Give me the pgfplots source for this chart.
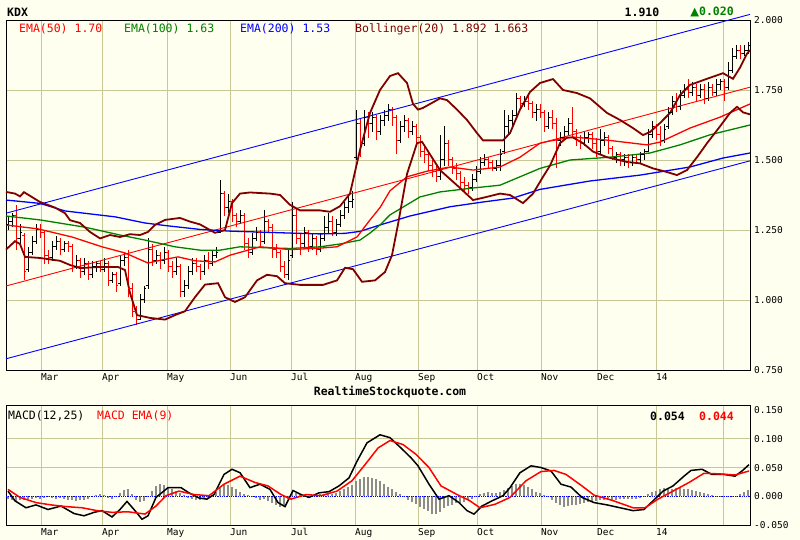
\documentclass[border=0pt]{standalone}
\usepackage{pgfplots}
\pgfplotsset{compat=1.18}
\usepackage{pgfplotstable}
\usepackage{fontspec}
\setmainfont{DejaVu Sans Mono}
\newfontfamily\symfont{DejaVu Sans}
\definecolor{bg}{RGB}{255,255,240}
\definecolor{gridc}{RGB}{200,200,150}
\definecolor{boll}{RGB}{128,0,0}
\definecolor{emagreen}{RGB}{0,128,0}
\definecolor{histc}{RGB}{140,140,140}

\pgfdeclareplotmark{ohlcopen}{\pgfpathmoveto{\pgfqpoint{-2.2pt}{0pt}}\pgfpathlineto{\pgfqpoint{0pt}{0pt}}\pgfusepathqstroke}
\pgfdeclareplotmark{ohlcclose}{\pgfpathmoveto{\pgfqpoint{0pt}{0pt}}\pgfpathlineto{\pgfqpoint{2.2pt}{0pt}}\pgfusepathqstroke}

% up bars: x open high low close
\pgfplotstableread{
x o h l c
8 1.27 1.30 1.25 1.28
12 1.28 1.31 1.26 1.30
20 1.22 1.27 1.20 1.24
28 1.11 1.19 1.10 1.17
32 1.17 1.23 1.16 1.21
36 1.21 1.27 1.20 1.25
52 1.15 1.21 1.14 1.19
56 1.19 1.23 1.18 1.21
64 1.18 1.21 1.17 1.20
76 1.12 1.16 1.11 1.14
84 1.10 1.15 1.09 1.13
92 1.09 1.14 1.08 1.12
96 1.12 1.14 1.10 1.13
104 1.11 1.15 1.10 1.13
112 1.07 1.10 1.06 1.09
120 1.06 1.16 1.05 1.14
124 1.14 1.17 1.12 1.15
140 0.93 1.02 0.93 1.00
144 1.00 1.05 0.99 1.04
148 1.05 1.22 1.04 1.18
156 1.14 1.18 1.13 1.16
164 1.14 1.19 1.13 1.17
176 1.10 1.15 1.09 1.12
184 1.03 1.07 1.01 1.05
188 1.05 1.12 1.04 1.10
192 1.10 1.15 1.09 1.13
204 1.10 1.16 1.09 1.14
212 1.13 1.18 1.12 1.16
216 1.16 1.19 1.15 1.17
220 1.24 1.43 1.24 1.38
228 1.33 1.38 1.31 1.35
240 1.28 1.32 1.27 1.30
252 1.17 1.24 1.16 1.22
256 1.22 1.26 1.21 1.24
264 1.21 1.32 1.20 1.28
288 1.09 1.18 1.07 1.14
292 1.16 1.35 1.15 1.30
304 1.20 1.26 1.19 1.24
312 1.19 1.24 1.18 1.22
320 1.18 1.24 1.17 1.22
324 1.22 1.30 1.21 1.26
328 1.26 1.31 1.24 1.28
336 1.24 1.29 1.23 1.27
340 1.27 1.32 1.26 1.30
344 1.30 1.35 1.29 1.33
348 1.33 1.37 1.31 1.35
352 1.35 1.39 1.33 1.36
356 1.51 1.68 1.50 1.63
364 1.56 1.68 1.55 1.65
372 1.63 1.67 1.60 1.65
380 1.60 1.66 1.59 1.64
384 1.64 1.68 1.62 1.66
388 1.66 1.70 1.64 1.68
400 1.57 1.64 1.56 1.62
404 1.62 1.66 1.60 1.64
412 1.60 1.64 1.59 1.62
440 1.44 1.59 1.43 1.50
444 1.50 1.62 1.48 1.56
472 1.40 1.45 1.39 1.43
476 1.43 1.48 1.42 1.46
480 1.46 1.51 1.45 1.49
484 1.49 1.52 1.48 1.50
496 1.47 1.50 1.46 1.48
500 1.48 1.54 1.46 1.52
504 1.53 1.68 1.52 1.62
508 1.62 1.66 1.59 1.64
512 1.64 1.68 1.62 1.66
516 1.66 1.74 1.65 1.72
524 1.70 1.73 1.69 1.71
536 1.67 1.70 1.64 1.68
548 1.62 1.67 1.61 1.65
560 1.57 1.60 1.55 1.58
564 1.58 1.62 1.57 1.60
568 1.60 1.65 1.59 1.63
584 1.56 1.60 1.55 1.58
588 1.58 1.60 1.56 1.59
600 1.53 1.61 1.52 1.57
604 1.57 1.60 1.55 1.58
616 1.51 1.53 1.49 1.52
624 1.50 1.52 1.48 1.51
632 1.49 1.52 1.48 1.51
640 1.50 1.53 1.49 1.52
644 1.52 1.54 1.50 1.53
648 1.53 1.61 1.53 1.59
652 1.59 1.64 1.58 1.62
664 1.57 1.63 1.56 1.61
668 1.62 1.69 1.61 1.67
672 1.67 1.73 1.66 1.71
680 1.69 1.75 1.68 1.73
684 1.73 1.77 1.72 1.75
692 1.74 1.78 1.73 1.76
700 1.73 1.77 1.72 1.75
708 1.72 1.78 1.71 1.76
716 1.74 1.79 1.73 1.77
720 1.77 1.79 1.75 1.78
728 1.76 1.85 1.75 1.82
732 1.82 1.90 1.81 1.87
736 1.87 1.91 1.86 1.89
744 1.88 1.91 1.87 1.89
748 1.89 1.92 1.88 1.91
}\upbars

% down bars: x open high low close
\pgfplotstableread{
x o h l c
16 1.30 1.34 1.18 1.22
24 1.23 1.24 1.07 1.10
40 1.25 1.27 1.22 1.24
44 1.24 1.25 1.13 1.16
48 1.16 1.18 1.13 1.15
60 1.21 1.22 1.16 1.18
68 1.20 1.21 1.17 1.19
72 1.19 1.20 1.10 1.12
80 1.14 1.15 1.08 1.10
88 1.13 1.14 1.07 1.09
100 1.13 1.14 1.10 1.11
108 1.13 1.14 1.05 1.07
116 1.09 1.10 1.03 1.05
128 1.15 1.18 1.01 1.04
132 1.04 1.06 0.94 0.96
136 0.96 0.98 0.91 0.93
152 1.18 1.20 1.12 1.14
160 1.16 1.17 1.11 1.14
168 1.17 1.18 1.10 1.12
172 1.12 1.14 1.08 1.10
180 1.12 1.13 1.01 1.03
196 1.13 1.15 1.10 1.12
200 1.12 1.13 1.07 1.10
208 1.14 1.17 1.11 1.13
224 1.38 1.39 1.30 1.33
232 1.35 1.36 1.28 1.30
236 1.30 1.31 1.26 1.28
244 1.30 1.31 1.18 1.20
248 1.20 1.22 1.15 1.17
260 1.24 1.25 1.19 1.21
268 1.28 1.29 1.24 1.26
272 1.26 1.27 1.15 1.18
276 1.18 1.20 1.15 1.17
280 1.17 1.18 1.10 1.12
284 1.12 1.14 1.08 1.09
296 1.30 1.33 1.20 1.22
300 1.22 1.24 1.16 1.20
308 1.24 1.25 1.17 1.19
316 1.22 1.23 1.16 1.18
332 1.28 1.30 1.23 1.24
360 1.63 1.65 1.51 1.56
368 1.65 1.67 1.58 1.63
376 1.65 1.66 1.57 1.60
392 1.68 1.69 1.62 1.65
396 1.65 1.66 1.52 1.57
408 1.64 1.65 1.58 1.60
416 1.62 1.63 1.56 1.58
420 1.58 1.59 1.51 1.53
424 1.53 1.55 1.49 1.52
428 1.52 1.53 1.46 1.48
432 1.48 1.50 1.44 1.46
436 1.46 1.48 1.42 1.44
448 1.56 1.57 1.48 1.50
452 1.50 1.51 1.45 1.47
456 1.47 1.49 1.43 1.45
460 1.45 1.46 1.40 1.42
464 1.42 1.44 1.39 1.41
468 1.41 1.42 1.38 1.40
488 1.50 1.51 1.47 1.49
492 1.49 1.50 1.46 1.47
520 1.72 1.73 1.68 1.70
528 1.71 1.73 1.68 1.70
532 1.70 1.71 1.65 1.67
540 1.68 1.70 1.65 1.67
544 1.67 1.68 1.60 1.62
552 1.65 1.68 1.61 1.63
556 1.63 1.65 1.47 1.57
572 1.63 1.69 1.58 1.60
576 1.60 1.61 1.55 1.57
580 1.57 1.59 1.54 1.56
592 1.59 1.60 1.54 1.56
596 1.56 1.58 1.51 1.53
608 1.58 1.59 1.52 1.54
612 1.54 1.55 1.50 1.51
620 1.52 1.53 1.48 1.50
628 1.51 1.52 1.47 1.49
636 1.51 1.52 1.49 1.50
656 1.62 1.63 1.57 1.59
660 1.59 1.62 1.55 1.57
676 1.71 1.74 1.67 1.69
688 1.75 1.79 1.72 1.74
696 1.76 1.77 1.71 1.73
704 1.75 1.77 1.70 1.72
712 1.76 1.77 1.73 1.74
724 1.78 1.79 1.71 1.76
740 1.89 1.91 1.86 1.88
}\downbars

% MACD histogram
\pgfplotstableread{
x v
8 -0.004
12 -0.006
16 -0.008
20 -0.007
24 -0.006
28 -0.005
32 -0.004
36 -0.003
40 -0.004
44 -0.003
48 -0.002
52 -0.003
56 -0.004
60 -0.003
64 -0.005
68 -0.006
72 -0.007
76 -0.008
80 -0.007
84 -0.006
88 -0.004
92 -0.002
96 0.002
100 0.004
104 0.002
108 -0.003
112 -0.005
116 -0.002
120 0.006
124 0.011
128 0.012
132 0.004
136 -0.006
140 -0.010
144 -0.008
148 -0.002
152 0.010
156 0.018
160 0.022
164 0.020
168 0.016
172 0.012
176 0.009
180 0.006
184 0.002
188 -0.003
192 -0.005
196 -0.007
200 -0.006
204 -0.005
208 -0.004
212 0.002
216 0.008
220 0.015
224 0.020
228 0.019
232 0.016
236 0.012
240 0.008
244 0.004
248 0.003
252 0.001
256 -0.003
260 -0.006
264 -0.004
268 -0.008
272 -0.012
276 -0.016
280 -0.018
284 -0.015
288 -0.004
292 0.008
296 0.006
300 0.002
304 -0.002
308 -0.003
312 0.001
316 0.003
320 0.004
324 0.003
328 0.005
332 0.004
336 0.006
340 0.009
344 0.012
348 0.016
352 0.020
356 0.026
360 0.030
364 0.033
368 0.034
372 0.032
376 0.030
380 0.026
384 0.021
388 0.016
392 0.012
396 0.008
400 0.004
404 -0.002
408 -0.006
412 -0.010
416 -0.014
420 -0.018
424 -0.022
428 -0.026
432 -0.030
436 -0.031
440 -0.027
444 -0.020
448 -0.017
452 -0.015
456 -0.012
460 -0.011
464 -0.010
468 -0.007
472 -0.004
476 0.001
480 0.004
484 0.006
488 0.007
492 0.006
496 0.005
500 0.007
504 0.011
508 0.014
512 0.018
516 0.021
520 0.022
524 0.020
528 0.016
532 0.012
536 0.008
540 0.005
544 0.002
548 -0.002
552 -0.006
556 -0.012
560 -0.016
564 -0.018
568 -0.017
572 -0.015
576 -0.016
580 -0.014
584 -0.012
588 -0.010
592 -0.009
596 -0.008
600 -0.006
604 -0.006
608 -0.007
612 -0.006
616 -0.006
620 -0.005
624 -0.004
628 -0.004
632 -0.005
636 -0.004
640 -0.003
644 -0.002
648 0.004
652 0.007
656 0.010
660 0.013
664 0.015
668 0.014
672 0.013
676 0.014
680 0.015
684 0.013
688 0.012
692 0.011
696 0.009
700 0.007
704 0.005
708 0.004
712 0.002
716 0.001
720 -0.001
724 -0.002
728 -0.001
732 -0.002
736 -0.001
740 0.004
744 0.008
748 0.011
}\histdata

\pgfplotsset{
  chartstyle/.style={
    anchor=south west, scale only axis, width=744pt,
    xmin=6, xmax=750,
    axis background/.style={fill=bg},
    axis line style={line width=0.9pt},
    xtick={41,102,167,230,291,355,418,477,541,597,656,723},
    xticklabels={Mar,Apr,May,Jun,Jul,Aug,Sep,Oct,Nov,Dec,14,{}},
    yticklabel pos=right,
    major tick length=0pt,
    grid=major,
    major grid style={gridc, line width=0.9pt},
    xticklabel style={anchor=north west, inner sep=0pt, yshift=-3pt, text height=7pt, text depth=2pt, font=\fontsize{9.5}{9.5}\selectfont},
    yticklabel style={anchor=west, inner sep=0pt, xshift=4pt, font=\fontsize{9.5}{9.5}\selectfont,
      /pgf/number format/fixed, /pgf/number format/fixed zerofill, /pgf/number format/precision=3},
    /pgf/number format/assume math mode=true,
  }
}

\begin{document}
\begin{tikzpicture}
\fill[bg] (0,0) rectangle (800pt,540pt);
\useasboundingbox (0,0) rectangle (800pt,540pt);

% ---------- main price panel ----------
\begin{axis}[chartstyle, at={(6pt,170pt)}, height=350pt,
  ymin=0.75, ymax=2.0, ytick={0.75,1,1.25,1.5,1.75,2}, clip=false]
  % OHLC bars
  \addplot[black, only marks, mark=ohlcopen, mark options={line width=1pt},
    error bars/.cd, y dir=both, y explicit, error mark=none,
    error bar style={line width=1pt}]
    table[x=x, y=o, y error plus expr=\thisrow{h}-\thisrow{o}, y error minus expr=\thisrow{o}-\thisrow{l}] {\upbars};
  \addplot[black, only marks, mark=ohlcclose, mark options={line width=1pt}] table[x=x, y=c] {\upbars};
  \addplot[red, only marks, mark=ohlcopen, mark options={line width=1pt},
    error bars/.cd, y dir=both, y explicit, error mark=none,
    error bar style={line width=1pt}]
    table[x=x, y=o, y error plus expr=\thisrow{h}-\thisrow{o}, y error minus expr=\thisrow{o}-\thisrow{l}] {\downbars};
  \addplot[red, only marks, mark=ohlcclose, mark options={line width=1pt}] table[x=x, y=c] {\downbars};
  % regression channel
  \addplot[blue, line width=0.9pt] coordinates {(6,1.31) (750,2.02)};
  \addplot[blue, line width=0.9pt] coordinates {(6,0.79) (750,1.497)};
  \addplot[red, line width=0.9pt] coordinates {(6,1.05) (750,1.76)};
  % EMA 200
  \addplot[blue, line width=1.3pt] coordinates {(6,1.357) (40,1.345) (65,1.318) (115,1.297) (145,1.275) (165,1.266) (200,1.252) (230,1.246) (290,1.239) (320,1.236) (345,1.238) (360,1.245) (380,1.268) (410,1.300) (450,1.333) (483,1.350) (513,1.364) (540,1.395) (590,1.425) (640,1.446) (690,1.475) (723,1.507) (750,1.525)};
  % EMA 100
  \addplot[emagreen, line width=1.3pt] coordinates {(6,1.300) (40,1.286) (85,1.260) (120,1.232) (145,1.214) (175,1.190) (200,1.178) (220,1.178) (240,1.190) (270,1.186) (290,1.184) (320,1.190) (340,1.200) (360,1.214) (370,1.239) (380,1.268) (390,1.304) (420,1.368) (440,1.386) (473,1.400) (500,1.410) (520,1.440) (540,1.470) (550,1.480) (570,1.500) (610,1.510) (650,1.525) (680,1.554) (710,1.590) (750,1.625)};
  % EMA 50
  \addplot[red, line width=1.3pt] coordinates {(6,1.268) (38,1.254) (72,1.225) (102,1.190) (125,1.168) (148,1.132) (162,1.143) (178,1.154) (195,1.140) (215,1.136) (230,1.160) (260,1.190) (290,1.180) (323,1.186) (337,1.190) (357,1.225) (370,1.286) (380,1.330) (390,1.390) (407,1.440) (427,1.460) (450,1.475) (473,1.464) (500,1.475) (520,1.510) (540,1.560) (550,1.568) (573,1.582) (607,1.571) (647,1.554) (660,1.564) (690,1.614) (720,1.653) (750,1.700)};
  % Bollinger upper
  \addplot[boll, line width=1.8pt] coordinates {(6,1.386) (15,1.380) (20,1.370) (24,1.385) (30,1.372) (40,1.350) (55,1.330) (65,1.310) (70,1.285) (80,1.275) (90,1.243) (100,1.220) (110,1.232) (120,1.225) (130,1.235) (140,1.232) (148,1.243) (155,1.268) (165,1.286) (180,1.293) (190,1.280) (200,1.270) (215,1.240) (225,1.250) (232,1.346) (240,1.380) (250,1.384) (270,1.380) (280,1.375) (290,1.340) (300,1.320) (320,1.320) (330,1.315) (340,1.335) (350,1.380) (360,1.536) (370,1.668) (380,1.750) (390,1.800) (398,1.810) (407,1.775) (413,1.700) (418,1.680) (423,1.686) (430,1.700) (440,1.720) (447,1.714) (457,1.680) (467,1.643) (477,1.596) (483,1.570) (503,1.570) (510,1.596) (520,1.680) (530,1.743) (540,1.775) (553,1.789) (563,1.750) (577,1.739) (590,1.720) (607,1.668) (620,1.643) (633,1.614) (643,1.589) (650,1.600) (660,1.632) (670,1.668) (680,1.732) (690,1.768) (707,1.790) (723,1.810) (733,1.790) (740,1.830) (747,1.880) (750,1.892)};
  % Bollinger lower
  \addplot[boll, line width=1.8pt] coordinates {(6,1.180) (15,1.210) (20,1.200) (25,1.154) (40,1.150) (60,1.140) (70,1.125) (80,1.114) (100,1.118) (118,1.118) (125,1.107) (130,1.025) (137,0.946) (150,0.936) (165,0.930) (175,0.946) (185,0.960) (195,1.010) (205,1.055) (218,1.060) (225,1.010) (235,0.993) (245,1.010) (257,1.070) (267,1.090) (277,1.085) (285,1.060) (300,1.054) (323,1.054) (337,1.070) (345,1.115) (353,1.110) (362,1.065) (375,1.070) (385,1.100) (392,1.160) (398,1.270) (407,1.450) (417,1.560) (422,1.565) (430,1.520) (440,1.464) (460,1.400) (473,1.357) (483,1.365) (500,1.380) (510,1.375) (523,1.346) (533,1.380) (543,1.440) (550,1.480) (560,1.560) (567,1.580) (573,1.580) (583,1.560) (593,1.530) (607,1.510) (627,1.493) (640,1.488) (653,1.470) (667,1.457) (677,1.446) (687,1.464) (697,1.510) (707,1.560) (720,1.620) (730,1.668) (737,1.690) (743,1.670) (750,1.663)};
\end{axis}

% ---------- MACD panel ----------
\begin{axis}[chartstyle, at={(6pt,15pt)}, height=119.5pt,
  ymin=-0.05, ymax=0.158, ytick={-0.05,0.05,0.1},
  extra y ticks={0,0.15}, extra y tick style={grid=none}]
  \addplot[ycomb, histc, line width=1.8pt] table[x=x, y=v] {\histdata};
  \addplot[blue, densely dotted, line width=0.8pt] coordinates {(6,0) (750,0)};
  % MACD(12,25)
  \addplot[black, line width=1.5pt] coordinates {(8,0.009) (15,-0.008) (26,-0.020) (36,-0.015) (48,-0.023) (61,-0.017) (74,-0.030) (84,-0.034) (94,-0.028) (102,-0.025) (112,-0.036) (120,-0.023) (127,-0.009) (134,-0.023) (142,-0.040) (148,-0.034) (156,-0.002) (168,0.015) (181,0.015) (189,0.006) (199,-0.003) (207,-0.005) (214,0.003) (224,0.038) (232,0.047) (240,0.041) (250,0.015) (260,0.021) (270,0.012) (278,-0.011) (285,-0.018) (293,0.010) (301,0.003) (309,-0.002) (319,0.006) (329,0.008) (339,0.018) (349,0.032) (357,0.061) (367,0.093) (380,0.107) (390,0.102) (401,0.084) (411,0.067) (418,0.053) (429,0.021) (439,-0.005) (449,0.001) (459,-0.011) (467,-0.025) (474,-0.031) (482,-0.017) (492,-0.008) (503,0.001) (510,0.015) (520,0.041) (531,0.053) (541,0.050) (551,0.044) (561,0.021) (571,0.016) (582,-0.002) (594,-0.011) (607,-0.015) (620,-0.020) (633,-0.025) (644,-0.023) (653,-0.008) (663,0.009) (673,0.018) (684,0.035) (691,0.045) (702,0.047) (712,0.038) (724,0.038) (735,0.035) (742,0.044) (749,0.055)};
  % MACD EMA(9)
  \addplot[red, line width=1.5pt] coordinates {(8,0.012) (20,-0.002) (36,-0.011) (51,-0.015) (66,-0.018) (82,-0.020) (97,-0.025) (112,-0.028) (128,-0.027) (145,-0.031) (156,-0.017) (166,0.001) (179,0.009) (194,0.003) (209,0.001) (224,0.021) (240,0.035) (255,0.024) (268,0.018) (281,0.003) (291,-0.005) (306,0.003) (321,0.001) (337,0.009) (352,0.027) (365,0.055) (378,0.084) (390,0.097) (403,0.090) (416,0.073) (429,0.050) (441,0.018) (457,0.003) (469,-0.007) (480,-0.020) (495,-0.014) (510,-0.002) (526,0.027) (541,0.043) (554,0.045) (566,0.038) (582,0.018) (594,0.002) (612,-0.007) (633,-0.020) (645,-0.020) (658,-0.005) (673,0.009) (689,0.024) (704,0.040) (719,0.039) (735,0.037) (749,0.044)};
\end{axis}

% ---------- texts ----------
\node[anchor=west, inner sep=0pt, font=\bfseries\fontsize{11.5}{12}\selectfont] at (7pt,528pt) {KDX};
\node[inner sep=0pt, font=\bfseries\fontsize{11.5}{12}\selectfont] at (642pt,528pt) {1.910};
\node[inner sep=0pt, emagreen, font=\bfseries\fontsize{11.5}{12}\selectfont] at (712pt,528pt) {{\symfont ▲}0.020};
\node[anchor=west, inner sep=0pt, red, font=\fontsize{11.5}{12}\selectfont] at (19pt,511pt) {EMA(50) 1.70};
\node[anchor=west, inner sep=0pt, emagreen, font=\fontsize{11.5}{12}\selectfont] at (124pt,511pt) {EMA(100) 1.63};
\node[anchor=west, inner sep=0pt, blue, font=\fontsize{11.5}{12}\selectfont] at (240pt,511pt) {EMA(200) 1.53};
\node[anchor=west, inner sep=0pt, boll, font=\fontsize{11.5}{12}\selectfont] at (355pt,511pt) {Bollinger(20) 1.892 1.663};
\node[inner sep=0pt, font=\bfseries\fontsize{11.5}{12}\selectfont] at (390pt,148pt) {RealtimeStockquote.com};
\node[anchor=west, inner sep=0pt, font=\fontsize{11.5}{12}\selectfont] at (8pt,124pt) {MACD(12,25)};
\node[anchor=west, inner sep=0pt, red, font=\fontsize{11.5}{12}\selectfont] at (97pt,124pt) {MACD EMA(9)};
\node[anchor=west, inner sep=0pt, font=\bfseries\fontsize{11.5}{12}\selectfont] at (650pt,124pt) {0.054};
\node[anchor=west, inner sep=0pt, red, font=\bfseries\fontsize{11.5}{12}\selectfont] at (699pt,124pt) {0.044};
\end{tikzpicture}
\end{document}
